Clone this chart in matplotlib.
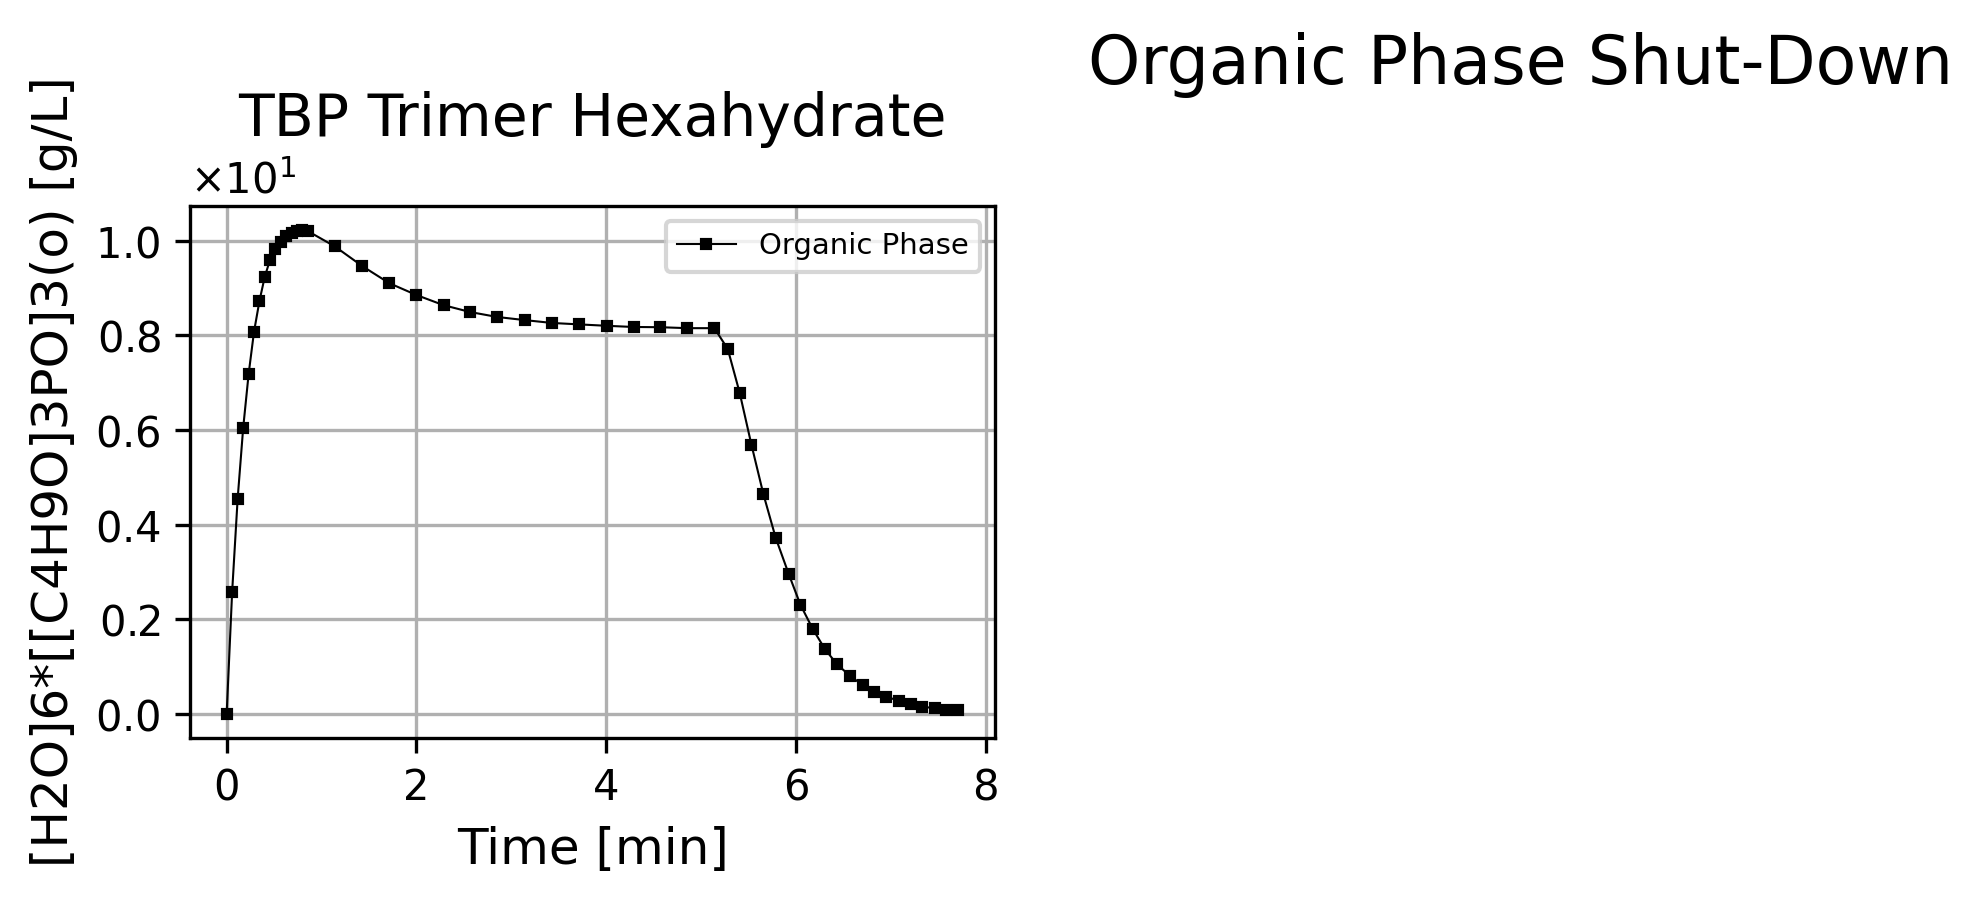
import matplotlib
matplotlib.use("Agg")
import matplotlib.pyplot as plt
from matplotlib.ticker import ScalarFormatter

time_min = [0.0, 0.058, 0.116, 0.174, 0.232, 0.288, 0.346, 0.402, 0.458, 0.514,
            0.571, 0.628, 0.685, 0.742, 0.799, 0.856, 1.138, 1.43, 1.714, 2.0,
            2.287, 2.568, 2.852, 3.143, 3.428, 3.712, 4.004, 4.289, 4.57, 4.855,
            5.139, 5.28, 5.406, 5.529, 5.655, 5.785, 5.922, 6.045, 6.175, 6.305,
            6.43, 6.565, 6.70, 6.82, 6.95, 7.08, 7.21, 7.33, 7.46, 7.58, 7.71]
organic_conc = [0.0, 2.585, 4.55, 6.04, 7.19, 8.07, 8.73, 9.24, 9.60, 9.83,
                9.98, 10.09, 10.17, 10.21, 10.22, 10.20, 9.88, 9.46, 9.10, 8.85,
                8.635, 8.49, 8.386, 8.32, 8.26, 8.23, 8.20, 8.175, 8.17, 8.15,
                8.15, 7.71, 6.78, 5.69, 4.645, 3.72, 2.956, 2.308, 1.795, 1.365,
                1.05, 0.807, 0.61, 0.467, 0.36, 0.28, 0.204, 0.15, 0.12, 0.09, 0.072]

series_label = "Organic Phase"
title = "TBP Trimer Hexahydrate"
suptitle = "Organic Phase Shut-Down"
xlabel = "Time [min]"
ylabel = "[H2O]6*[[C4H9O]3PO]3(o) [g/L]"

fig = plt.figure(figsize=(1984 / 300, 906 / 300), dpi=300)
ax = fig.add_axes([0.0958, 0.1854, 0.5015 - 0.0958, 0.7726 - 0.1854])

ax.plot(time_min, organic_conc, color="black", marker="s", markersize=2,
        linewidth=0.5, label=series_label)

fmt = ScalarFormatter(useMathText=True)
fmt.set_scientific(True)
fmt.set_powerlimits((0, 0))
ax.yaxis.set_major_formatter(fmt)

ax.tick_params(labelsize=10)
ax.yaxis.get_offset_text().set_fontsize(10)
ax.grid(True)
ax.set_xlabel(xlabel, fontsize=12)
ax.set_ylabel(ylabel, fontsize=12)
ax.set_title(title, fontsize=14)
ax.legend(loc="upper right", fontsize=7)

fig.text(0.7666, 1 - 83.5 / 906, suptitle, fontsize=16, ha="center", va="baseline")

fig.savefig("out.png", dpi=300)
